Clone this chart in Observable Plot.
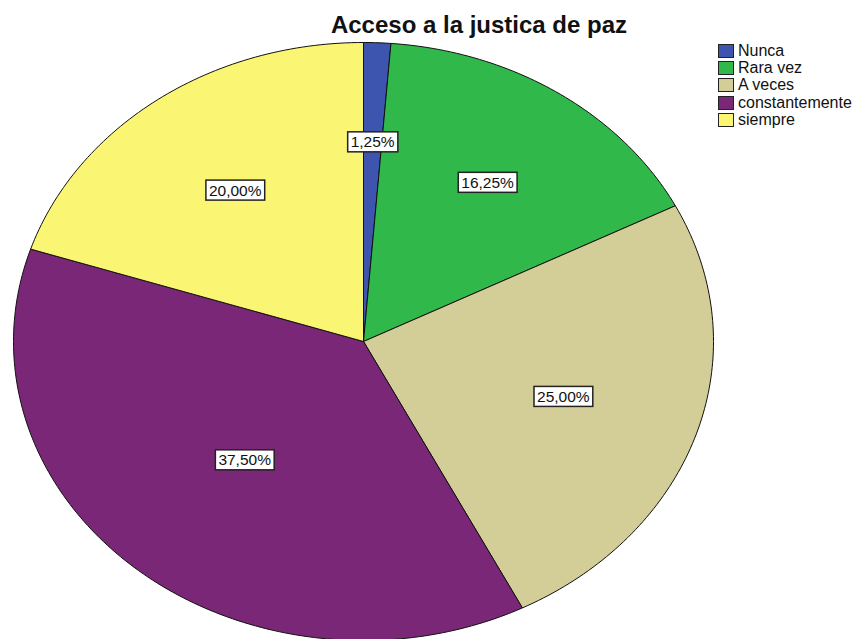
<!DOCTYPE html>
<html>
<head>
<meta charset="utf-8">
<script src="https://cdn.jsdelivr.net/npm/d3@7"></script>
<script src="https://cdn.jsdelivr.net/npm/@observablehq/plot@0.6"></script>
<style>
  html, body { margin: 0; padding: 0; background: #fff; }
  #wrap { position: relative; width: 856px; height: 639px; overflow: hidden; font-family: "Liberation Sans", Arial, sans-serif; }
  #title { position: absolute; left: 0; width: 958px; top: 11px; text-align: center; font-weight: bold; font-size: 24px; color: #111; margin: 0; z-index: 2; }
  #legend { position: absolute; left: 718px; top: 42px; font-size: 16px; color: #111; z-index: 2; }
  .li { display: flex; align-items: center; height: 17.4px; }
  .sw { width: 16px; height: 14px; border: 1px solid #222; margin-right: 4px; box-sizing: border-box; }
  svg { position: absolute; left: 0; top: 0; }
</style>
</head>
<body>
<div id="wrap">
  <div id="title">Acceso a la justica de paz</div>
  <div id="legend"></div>
</div>
<script>
const categories = ["Nunca", "Rara vez", "A veces", "constantemente", "siempre"];
const percents = [1.25, 16.25, 25.00, 37.50, 20.00];
const labels = ["1,25%", "16,25%", "25,00%", "37,50%", "20,00%"];
const colors = ["#3D55AF", "#30B84A", "#D3CE97", "#7A2777", "#FAF572"];

// Build slice outlines from the pie layout (unit circle, angle clockwise from top)
const pie = d3.pie().sort(null).value(d => d)(percents);
const outline = [];
const labelPts = [];
pie.forEach((a, i) => {
  const cat = categories[i];
  outline.push({cat, x: 0, y: 0});
  const steps = Math.max(2, Math.ceil((a.endAngle - a.startAngle) / (Math.PI / 180)));
  for (let s = 0; s <= steps; s++) {
    const t = a.startAngle + (a.endAngle - a.startAngle) * s / steps;
    outline.push({cat, x: Math.sin(t), y: Math.cos(t)});
  }
  outline.push({cat, x: 0, y: 0});
  // label at the sector's centroid
  const m = (a.startAngle + a.endAngle) / 2;
  const half = (a.endAngle - a.startAngle) / 2;
  const r = 2 * Math.sin(half) / (3 * half);
  labelPts.push({cat, label: labels[i], x: r * Math.sin(m), y: r * Math.cos(m)});
});

const chart = Plot.plot({
  width: 856,
  height: 639,
  margin: 0,
  x: {domain: [-1, 1], range: [13, 713], axis: null},
  y: {domain: [-1, 1], range: [640, 42], axis: null},
  color: {domain: categories, range: colors},
  marks: [
    Plot.line(outline, {x: "x", y: "y", z: "cat", fill: "cat", stroke: "#111", strokeWidth: 1, curve: "linear"}),
    Plot.text(labelPts, {x: "x", y: "y", text: "label", fontSize: 15.5, fill: "#111"})
  ]
});
chart.style.fontFamily = '"Liberation Sans", Arial, sans-serif';
document.getElementById("wrap").appendChild(chart);

// white boxes behind labels
const g = chart.querySelector("g[aria-label='text']");
if (g) {
  g.querySelectorAll("text").forEach(t => {
    const b = t.getBBox();
    const rect = document.createElementNS("http://www.w3.org/2000/svg", "rect");
    rect.setAttribute("x", b.x - 3);
    rect.setAttribute("y", b.y + b.height / 2 - 10);
    rect.setAttribute("width", b.width + 6);
    rect.setAttribute("height", 20);
    rect.setAttribute("fill", "#fff");
    rect.setAttribute("stroke", "#222");
    rect.setAttribute("stroke-width", 1.5);
    const tr = t.getAttribute("transform");
    if (tr) rect.setAttribute("transform", tr);
    t.parentNode.insertBefore(rect, t);
  });
}

// legend
const leg = document.getElementById("legend");
categories.forEach((c, i) => {
  const row = document.createElement("div");
  row.className = "li";
  const sw = document.createElement("div");
  sw.className = "sw";
  sw.style.background = colors[i];
  const tx = document.createElement("span");
  tx.textContent = c;
  row.appendChild(sw); row.appendChild(tx);
  leg.appendChild(row);
});
</script>
</body>
</html>
